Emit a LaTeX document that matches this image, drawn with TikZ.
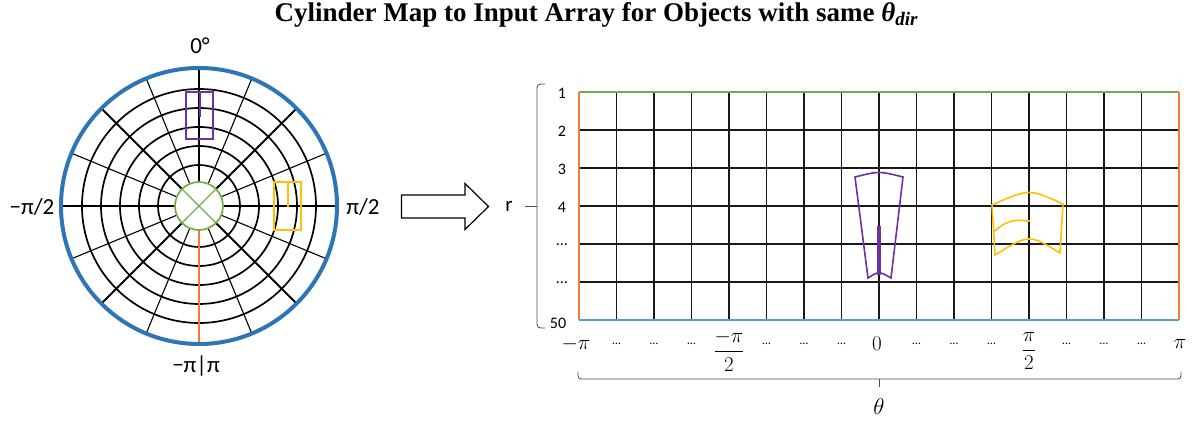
\RequirePackage{fix-cm}
\documentclass[tikz,border=0pt]{standalone}
\usepackage{fontspec}
\usepackage{amsmath}
\setmainfont{Liberation Serif}
\newfontfamily\calfont{Carlito}
\usetikzlibrary{positioning}
\definecolor{ringblue}{HTML}{2E75B6}
\definecolor{edgeblue}{HTML}{5B9BD5}
\definecolor{polegreen}{HTML}{70AD47}
\definecolor{seamorange}{HTML}{ED7D31}
\definecolor{objpurple}{HTML}{7030A0}
\definecolor{objgold}{HTML}{FFC000}

\begin{document}
\begin{tikzpicture}[x=1pt, y=-1pt,
    ring/.style={line width=1.7pt},
    spoke/.style={line width=1.1pt},
    mainspoke/.style={line width=2pt},
    gridline/.style={line width=1.5pt, black!90},
    polelabel/.style={font=\calfont\fontsize{23}{25}\selectfont, inner sep=0pt},
    rowlabel/.style={font=\calfont\fontsize{16}{18}\selectfont, inner sep=0pt},
    anglabel/.style={font=\fontsize{21}{23}\selectfont, inner sep=0pt},
    dotlabel/.style={font=\calfont\fontsize{12}{13}\selectfont, inner sep=0pt},
    brace/.style={line width=0.8pt, black!70},
    object/.style={line width=1.6pt},
    titlestyle/.style={font=\fontsize{27}{30}\selectfont\bfseries, inner sep=0pt},
]
\useasboundingbox (0,0) rectangle (1192,427);

% title
\node[titlestyle] (title) at (596,15)
    {Cylinder Map to Input Array for Objects with same \textit{θ\raisebox{-0.35ex}{\fontsize{19}{20}\selectfont dir}}};

% polar view
\coordinate (pole) at (199,206);
\begin{scope}[shift={(pole)}, yscale=-1]
    \foreach \r in {41,60,79,98,117}
        \draw[ring] (0,0) circle (\r);
    \foreach \a in {22.5,67.5,112.5,157.5,202.5,247.5,292.5,337.5}
        \draw[spoke] (\a:24) -- (\a:138);
    \foreach \a in {45,135,225,315}
        \draw[mainspoke] (\a:24) -- (\a:138);
    \draw[spoke] (0:24) -- (0:138);
    \draw[spoke] (180:24) -- (180:138);
    \draw[spoke] (90:24) -- (90:138);
    \draw[line width=1.5pt, seamorange] (270:24) -- (270:138);
    \draw[line width=1.7pt, polegreen] (0,0) circle (24);
    \draw[line width=1.4pt, polegreen] (45:24) -- (225:24) (135:24) -- (315:24);
    \draw[line width=4pt, ringblue] (0,0) circle (138);
\end{scope}

% objects in the polar view
\draw[object, objpurple] (186,92) rectangle (213,139);
\draw[line width=2.8pt, objpurple] (200,92) -- (200,117);
\draw[object, objgold] (274,182) rectangle (301,230);
\draw[line width=1.8pt, objgold] (288,182) -- (288,207);

\node[polelabel] (north) at (200,46) {0°};
\node[polelabel] (west) at (32,207) {−π/2};
\node[polelabel] (east) at (363,207) {π/2};
\node[polelabel] (south) at (196,366) {−π|π};

% mapping arrow
\draw[line width=1.2pt, fill=white] (401.5,195) -- (465,195) -- (465,183.5)
    -- (488.5,206.5) -- (465,229.5) -- (465,218) -- (401.5,218) -- cycle;

% input array
\foreach \k in {1,...,15}
    \draw[gridline] ({579+37.5*\k},92) -- ({579+37.5*\k},320);
\foreach \j in {1,...,5}
    \draw[gridline] (579,{92+38*\j}) -- (1179,{92+38*\j});
\draw[line width=1.6pt, polegreen] (579,92) -- (1179,92);
\draw[line width=1.6pt, edgeblue] (579,320) -- (1179,320);
\draw[line width=1.6pt, seamorange] (579,92) -- (579,320);
\draw[line width=1.6pt, seamorange] (1179,92) -- (1179,320);

% objects in the array
\draw[object, objpurple] (855,177) .. controls (879,171) .. (903,177)
    -- (891,278) .. controls (879,271) .. (868,278) -- cycle;
\draw[line width=3.8pt, objpurple] (879,226) -- (879,275);
\draw[object, objgold] (992,205) .. controls (1029,188.5) .. (1063,204)
    -- (1060,253) .. controls (1029,234) .. (995,255) -- cycle;
\draw[object, objgold] (993.5,232) .. controls (1011,216) and (1021,221) .. (1030,221);

% r axis
\node[rowlabel] (r1) at (562,93) {1};
\node[rowlabel] (r2) at (562,131) {2};
\node[rowlabel] (r3) at (562,169) {3};
\node[rowlabel] (r4) at (562,207) {4};
\node[rowlabel] (r5) at (562,245) {…};
\node[rowlabel] (r6) at (562,283) {…};
\node[rowlabel] (r50) at (558,323) {50};
\draw[brace] (545,84) .. controls (537,84) .. (537,92) -- (537,320)
    .. controls (537,328) .. (545,328);
\coordinate (rtick) at (525,206);
\draw[brace] (537,206) -- (rtick);
\node[font=\calfont\fontsize{21}{23}\selectfont, inner sep=0pt, left=12pt of rtick] (rlab) {r};

% theta axis
\foreach \k in {1,2,3,5,6,7,9,10,11,13,14,15}
    \node[dotlabel] (d\k) at ({579+37.5*\k},344) {…};
\node[anglabel] (tmpi) at (576,344) {$-\pi$};
\node[anglabel] (tmhalf) at (729,351) {$\dfrac{-\pi}{2}$};
\node[anglabel] (tzero) at (877,344) {$0$};
\node[anglabel] (tphalf) at (1029,351) {$\dfrac{\pi}{2}$};
\node[anglabel] (tpi) at (1180,344) {$\pi$};
\draw[brace] (578,372) .. controls (578,379) .. (585,379) -- (1174,379)
    .. controls (1181,379) .. (1181,372);
\coordinate (ttick) at (879,387);
\draw[brace] (879,379) -- (ttick);
\node[anglabel, font=\fontsize{23}{25}\selectfont, below=11pt of ttick] (thlab) {$\theta$};
\end{tikzpicture}
\end{document}
